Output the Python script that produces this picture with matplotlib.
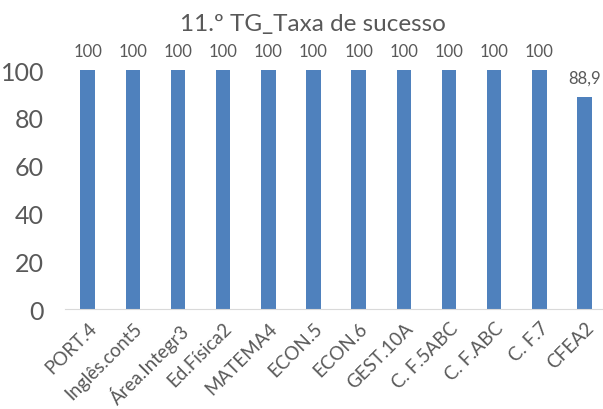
import matplotlib.pyplot as plt

categories = ["PORT.4", "Inglês.cont5", "Área.Integr3", "Ed.Física2", "MATEMA4", "ECON.5",
              "ECON.6", "GEST.10A", "C. F.5ABC", "C. F.ABC", "C. F.7", "CFEA2"]
values = [100, 100, 100, 100, 100, 100, 100, 100, 100, 100, 100, 88.9]
labels = ["100"] * 11 + ["88,9"]

plt.rcParams['font.family'] = ['Lato', 'DejaVu Sans']
grey = '#595959'

fig = plt.figure(figsize=(6.03, 4.10), dpi=100)
ax = fig.add_axes([0.1078, 0.2439, 0.899, 0.5829])

x = range(len(categories))
bars = ax.bar(x, values, width=0.32, color='#4f81bd')
for i, b in enumerate(bars):
    ax.text(b.get_x() + b.get_width() / 2, values[i] + 4.5, labels[i], ha='center', va='bottom',
            fontsize=12, color=grey, clip_on=False)

ax.set_xlim(-0.5, len(categories) - 0.5)
ax.set_ylim(0, 100)
ax.set_yticks(range(0, 101, 20))
ax.set_xticks(list(x))
ax.set_xticklabels(categories, rotation=45, ha='right', rotation_mode='anchor', fontsize=13.5, color=grey)
ax.tick_params(axis='y', labelsize=18, colors=grey, length=0, pad=15)
ax.tick_params(axis='x', length=0, pad=7)
for s in ['top', 'right', 'left']:
    ax.spines[s].set_visible(False)
ax.spines['bottom'].set_color('#d9d9d9')
fig.text(0.519, 1 - 24 / 410, "11.º TG_Taxa de sucesso", fontsize=17.5, color=grey,
         ha='center', va='center')

fig.savefig("out.png", dpi=100)
